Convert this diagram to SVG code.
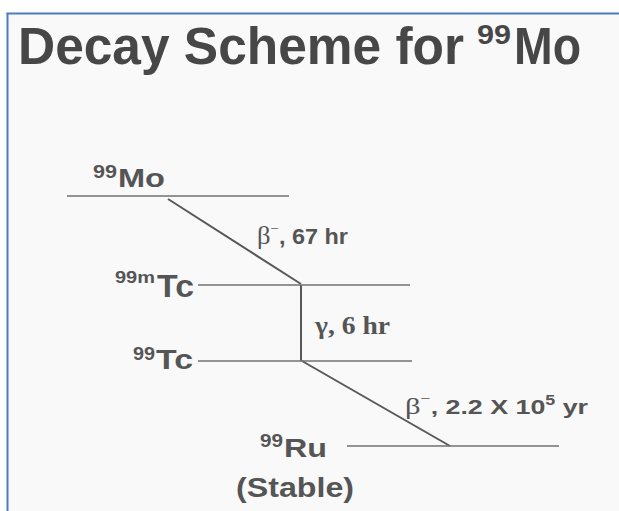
<svg xmlns="http://www.w3.org/2000/svg" width="619" height="511" viewBox="0 0 619 511">
<style>
.sans{font-family:"Liberation Sans",Arial,sans-serif;font-weight:bold;fill:#555}
.serif{font-family:"Liberation Serif","Times New Roman",serif;fill:#555}
.title{font-family:"Liberation Sans",Arial,sans-serif;font-weight:bold;fill:#474747}
.level{stroke:#707070;stroke-width:1.3;fill:none}
.trans{stroke:#585858;stroke-width:2;fill:none}
text{white-space:pre}
</style>
<rect x="0" y="0" width="619" height="511" fill="#ffffff"/>
<rect x="7" y="13" width="612" height="498" fill="#f9f9f9"/>
<line x1="6.5" y1="13.5" x2="619" y2="13.5" stroke="#4a7ebb" stroke-width="2"/>
<line x1="7.5" y1="13" x2="7.5" y2="511" stroke="#4a7ebb" stroke-width="2"/>
<g id="title">
<text class="title" x="18" y="64" font-size="51" textLength="446" lengthAdjust="spacingAndGlyphs">Decay Scheme for</text>
<text class="title" x="477" y="44" font-size="28" textLength="34" lengthAdjust="spacingAndGlyphs">99</text>
<text class="title" x="514" y="64" font-size="51" textLength="67" lengthAdjust="spacingAndGlyphs">Mo</text>
</g>
<g id="connectors">
<line class="trans" x1="168" y1="199" x2="301" y2="284"/>
<line class="trans" x1="301" y1="285" x2="301" y2="361"/>
<line class="trans" x1="302" y1="361" x2="450" y2="446"/>
</g>
<g id="mo99">
<line class="level" x1="67" y1="196" x2="289" y2="196"/>
<text class="sans" x="93" y="178" font-size="18" textLength="24" lengthAdjust="spacingAndGlyphs">99</text>
<text class="sans" x="118" y="187" font-size="26" textLength="47" lengthAdjust="spacingAndGlyphs">Mo</text>
</g>
<g id="tc99m">
<line class="level" x1="198" y1="285" x2="410" y2="285"/>
<text class="sans" x="115" y="283" font-size="17" textLength="40" lengthAdjust="spacingAndGlyphs">99m</text>
<text class="sans" x="157" y="297" font-size="31" textLength="37" lengthAdjust="spacingAndGlyphs">Tc</text>
</g>
<g id="tc99">
<line class="level" x1="198" y1="361" x2="412" y2="361"/>
<text class="sans" x="133" y="360" font-size="18" textLength="22" lengthAdjust="spacingAndGlyphs">99</text>
<text class="sans" x="156" y="369" font-size="28" textLength="37" lengthAdjust="spacingAndGlyphs">Tc</text>
</g>
<g id="ru99">
<line class="level" x1="347" y1="446" x2="559" y2="446"/>
<text class="sans" x="260" y="447" font-size="18" textLength="23" lengthAdjust="spacingAndGlyphs">99</text>
<text class="sans" x="284" y="457" font-size="25" textLength="43" lengthAdjust="spacingAndGlyphs">Ru</text>
<text class="sans" x="236" y="497" font-size="27" textLength="118" lengthAdjust="spacingAndGlyphs">(Stable)</text>
</g>
<g id="labels">
<text x="257" y="244" font-size="22" textLength="91" lengthAdjust="spacingAndGlyphs"><tspan class="serif" font-size="25">β</tspan><tspan class="serif" font-size="14" dy="-11">−</tspan><tspan class="sans" dy="11">, 67 hr</tspan></text>
<text class="serif" x="315" y="334" font-size="25" font-weight="bold" textLength="75" lengthAdjust="spacingAndGlyphs">γ, 6 hr</text>
<text x="405" y="414" font-size="21" textLength="183" lengthAdjust="spacingAndGlyphs"><tspan class="serif" font-size="24">β</tspan><tspan class="serif" font-size="14" dy="-11">−</tspan><tspan class="sans" dy="11">, 2.2 X 10</tspan><tspan class="sans" font-size="14" dy="-9">5</tspan><tspan class="sans" dy="9"> yr</tspan></text>
</g>
</svg>
